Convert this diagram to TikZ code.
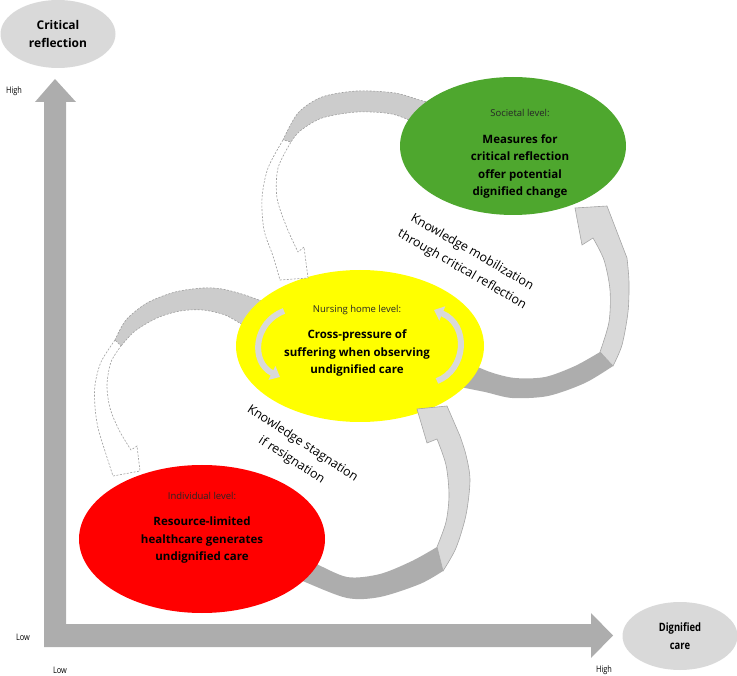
\documentclass[tikz,border=0pt]{standalone}
\usepackage{fontspec}
\setmainfont{Open Sans}
\newfontfamily\narrowfont[FakeStretch=0.82]{Open Sans}
\usetikzlibrary{shapes.geometric,arrows.meta}
\definecolor{axisgray}{HTML}{ADADAD}
\definecolor{ellgray}{HTML}{D9D9D9}
\definecolor{bandgray}{HTML}{ADADAD}
\definecolor{frontgray}{HTML}{D9D9D9}
\definecolor{edgegray}{HTML}{A6A6A6}
\definecolor{dashfill}{HTML}{CCCCCC}
\definecolor{dashedge}{HTML}{9E9E9E}
\definecolor{lvred}{HTML}{FF0000}
\definecolor{lvyellow}{HTML}{FFFF00}
\definecolor{lvgreen}{HTML}{4EA72E}
\newcommand\levelname[1]{{\fontsize{9.5}{17.5}\selectfont\mdseries\color{black!85}#1}}
\begin{document}
\begin{tikzpicture}[x=1pt, y=-1pt, every node/.style={font=\fontsize{9}{11}\selectfont},
    levelell/.style={ellipse, inner sep=0pt, outer sep=0pt},
    axisell/.style={ellipse, fill=ellgray, minimum width=115pt, minimum height=68pt, inner sep=0pt, align=center},
    leveltext/.style={align=center, font=\fontsize{11.5}{17.5}\selectfont\bfseries},
    axislab/.style={font=\narrowfont\fontsize{9}{11}\selectfont},
    back/.style={fill=bandgray},
    front/.style={fill=frontgray, draw=edgegray, line width=0.6pt},
    dashback/.style={fill=dashfill, draw=dashedge, dashed, dash pattern=on 2pt off 1.5pt, line width=0.6pt},
    dashfront/.style={fill=white, draw=dashedge, dashed, dash pattern=on 2pt off 1.5pt, line width=0.6pt},
    turn/.style={line width=6pt, draw=frontgray, -{Triangle[length=9pt,width=15pt]}},
    knowtext/.style={align=center, font=\fontsize{12.5}{20}\selectfont}]
\useasboundingbox (0,0) rectangle (737,676);
\fill[axisgray] (44,647) -- (44,102) -- (35,102) -- (55,79) -- (76,102) -- (66,102) -- (66,624)
    -- (591,624) -- (591,613) -- (613,635.5) -- (591,658) -- (591,647) -- cycle;
\foreach \nm/\pos/\lab in {yhigh/{(14,91)}/High, ylow/{(23,637)}/Low, xlow/{(60,670)}/Low, xhigh/{(604,670)}/High}
    \node[axislab] (\nm) at \pos {\lab};
\node[axisell, font=\fontsize{12}{18}\selectfont\bfseries] (critref) at (58,34) {Critical\\reflection};
\node[axisell, font=\narrowfont\fontsize{11.5}{18}\selectfont\bfseries] (dignity) at (680,636) {Dignified\\care};
\fill[back] plot[smooth] coordinates {(290,555) (312,562) (347,577) (380,574) (412,561) (437,547)}
    -- plot[smooth] coordinates {(443,571) (420,584) (380,597) (347,598) (305,582) (290,575)} -- cycle;
\fill[back] plot[smooth] coordinates {(462,360) (490,372) (515,378) (545,377) (575,366) (600,352)}
    -- plot[smooth] coordinates {(613,366) (585,383) (548,396) (512,398) (485,392) (455,386)} -- cycle;
\draw[dashback] plot[smooth] coordinates {(440,104) (423,101) (395,93) (357,91) (322,97) (298,113) (283,140)}
    -- plot[smooth] coordinates {(291,142) (300,131) (322,118) (357,112) (392,114) (418,124)} -- cycle;
\draw[dashback] plot[smooth] coordinates {(272,305) (245,295) (222,289) (203,288) (175,292) (147,303) (126,320) (115,340)}
    -- plot[smooth] coordinates {(121,346) (135,331) (157,318) (180,311) (203,310) (225,315) (243,325) (258,333)} -- cycle;
\node[levelell, fill=lvred, minimum width=246pt, minimum height=148pt] (indiv) at (202,539) {};
\node[levelell, fill=lvyellow, minimum width=248pt, minimum height=152pt] (nurse) at (360,346) {};
\node[levelell, fill=lvgreen, minimum width=226pt, minimum height=138pt] (societ) at (513,146) {};
\draw[front] plot[smooth] coordinates {(443,571) (456,548) (466,515) (470,480) (466,455) (460,436)}
    -- (447,406) -- (417,409) -- (427,443) -- (437,439)
    -- plot[smooth] coordinates {(437,439) (446,465) (449,495) (446,522) (437,547)} -- cycle;
\draw[front] plot[smooth] coordinates {(613,366) (622,345) (628,312) (629,282) (627,258)}
    -- (607,206) -- (575,208) -- (582,245) -- (593,238)
    -- plot[smooth] coordinates {(593,238) (604,260) (610,290) (609,322) (600,352)} -- cycle;
\draw[dashfront] plot[smooth] coordinates {(283,140) (268,168) (262,198) (264,230) (273,256) (280,280)}
    -- (308,278) -- (304,247) -- (298,252)
    -- plot[smooth] coordinates {(298,252) (287,228) (277,198) (278,168) (291,142)} -- cycle;
\draw[dashfront] plot[smooth] coordinates {(115,340) (101,362) (95,385) (95,407) (98,428) (104,448) (113,476)}
    -- (140,471) -- (137,446) -- (131,450)
    -- plot[smooth] coordinates {(131,450) (119,430) (110,408) (107,385) (111,362) (121,346)} -- cycle;
\draw[turn] (284,311) .. controls (254,322) and (250,362) .. (280,377);
\draw[turn] (437,381) .. controls (466,370) and (470,325) .. (434,310);
\node[leveltext] (indivtext) at (202,528) {\levelname{Individual level:}\\[9pt]Resource-limited\\healthcare generates\\undignified care};
\node[leveltext] (nursetext) at (357,341) {\levelname{Nursing home level:}\\[9pt]Cross-pressure of\\suffering when observing\\undignified care};
\node[leveltext] (societtext) at (520,154) {\levelname{Societal level:}\\[9pt]Measures for\\critical reflection\\offer potential\\dignified change};
\node[knowtext, rotate=-30] (mobil) at (467,261) {Knowledge mobilization\\through critical reflection};
\node[knowtext, rotate=-33] (stagn) at (297,452) {Knowledge stagnation\\if resignation};
\end{tikzpicture}
\end{document}
